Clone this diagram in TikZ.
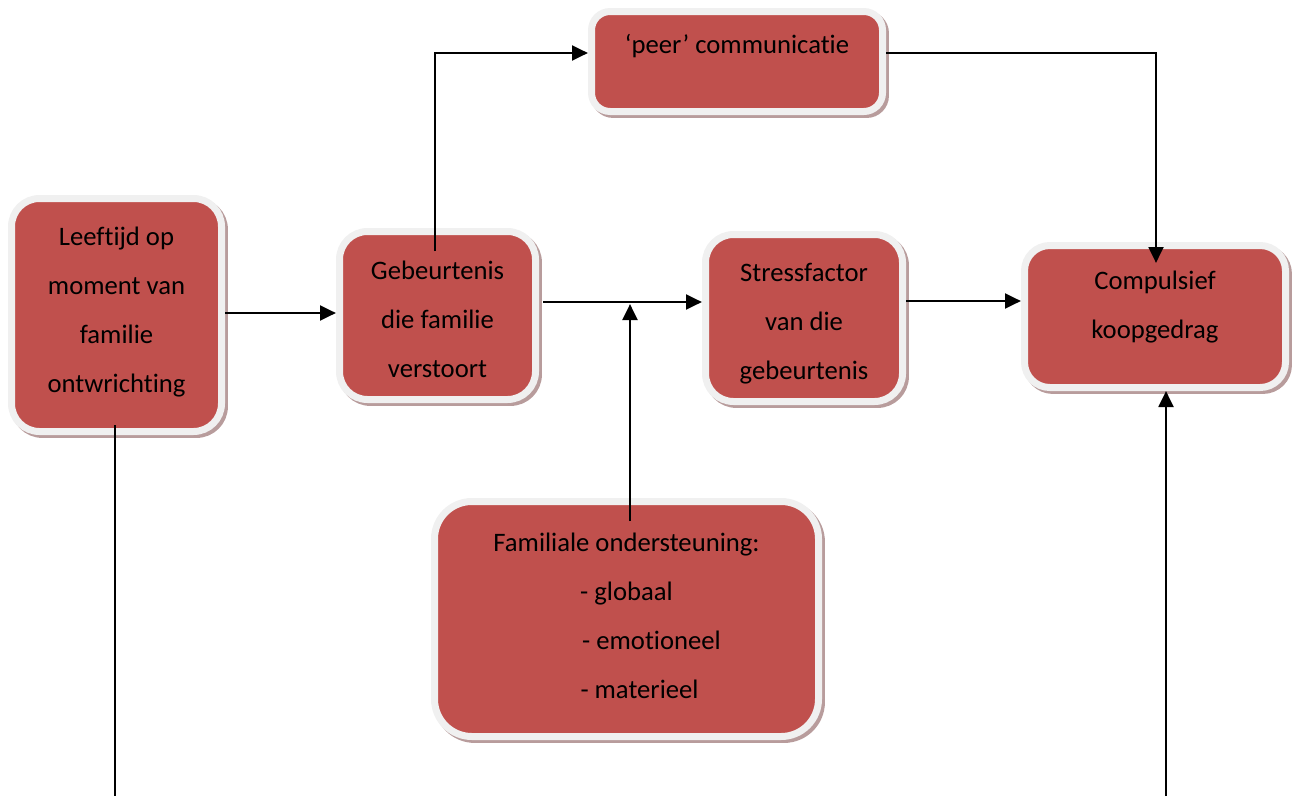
\documentclass[tikz,border=0pt]{standalone}
\usepackage{fontspec}
\setmainfont{Carlito}[Ligatures=NoCommon]
\usetikzlibrary{arrows.meta,shadows}
\definecolor{boxred}{HTML}{C0504D}
\definecolor{rim}{HTML}{F0F0F0}
\definecolor{shade}{HTML}{B89C9C}
\begin{document}
\begin{tikzpicture}[x=0.75pt,y=-0.75pt,
  box/.style={draw=rim, line width=5.25pt, fill=boxred, inner sep=0pt,
    rounded corners=#1,
    drop shadow={shadow xshift=2.2pt, shadow yshift=-2.2pt, opacity=1,
      fill=shade, draw=shade, line width=5.25pt}},
  txt/.style={inner sep=0pt, align=center,
    font=\fontsize{20}{36.75}\selectfont},
  arr/.style={-{Triangle[length=12pt,width=11pt]}},
  link/.style={line width=2.2pt}]
\useasboundingbox (0,0) rectangle (1299,796);

% boxes (size = red area plus the rim)
\node[box=21pt, minimum width=157.5pt, minimum height=174.75pt] (L) at (116.5,315) {};
\node[box=21pt, minimum width=147pt, minimum height=126pt] (G) at (437.5,315.5) {};
\node[box=21pt, minimum width=147.75pt, minimum height=125.25pt] (S) at (804,318) {};
\node[box=19pt, minimum width=195.75pt, minimum height=106.5pt] (C) at (1155,316.5) {};
\node[box=14pt, minimum width=218.25pt, minimum height=75pt] (P) at (737,61.5) {};
\node[box=28pt, minimum width=288pt, minimum height=176.25pt] (F) at (626.5,619) {};

% texts
\node[txt] (Lt) at (116.5,312) {Leeftijd op\\moment van\\familie\\ontwrichting};
\node[txt] (Gt) at (437.5,319.5) {Gebeurtenis\\die familie\\verstoort};
\node[txt] (St) at (804,323.5) {Stressfactor\\van die\\gebeurtenis};
\node[txt] (Ct) at (1155,307.5) {Compulsief\\koopgedrag};
\node[txt] (Pt) at (737,46) {‘peer’ communicatie};
\node[txt] (Ft) at (626.5,616) {Familiale ondersteuning:\\- globaal\\\hspace*{37.5pt}- emotioneel\\\hspace*{19.5pt}- materieel};

% connector ends
\coordinate (j) at (630,304);
\coordinate (ftop) at (630,521);
\coordinate (gtop) at (435,251);
\coordinate (ctop) at (1156,263);
\coordinate (lbot) at (115,425);
\coordinate (bl) at (115,796);
\coordinate (br) at (1166,796);

% connectors
\draw[link,arr] (L.east |- 0,313) -- (G.west |- 0,313);
\draw[link,arr,shorten <=3pt] (G.east |- 0,302) -- (S.west |- 0,302);
\draw[link,arr] (ftop) -- (j);
\draw[link,arr] (gtop) |- (P.west |- 0,53);
\draw[link,arr] (P.east |- 0,53) -| (ctop);
\draw[link,arr] (S.east |- 0,301) -- (C.west |- 0,301);
\draw[link] (lbot) -- (bl);
\draw[link,arr] (br) -- (C.south -| br);
\end{tikzpicture}
\end{document}
